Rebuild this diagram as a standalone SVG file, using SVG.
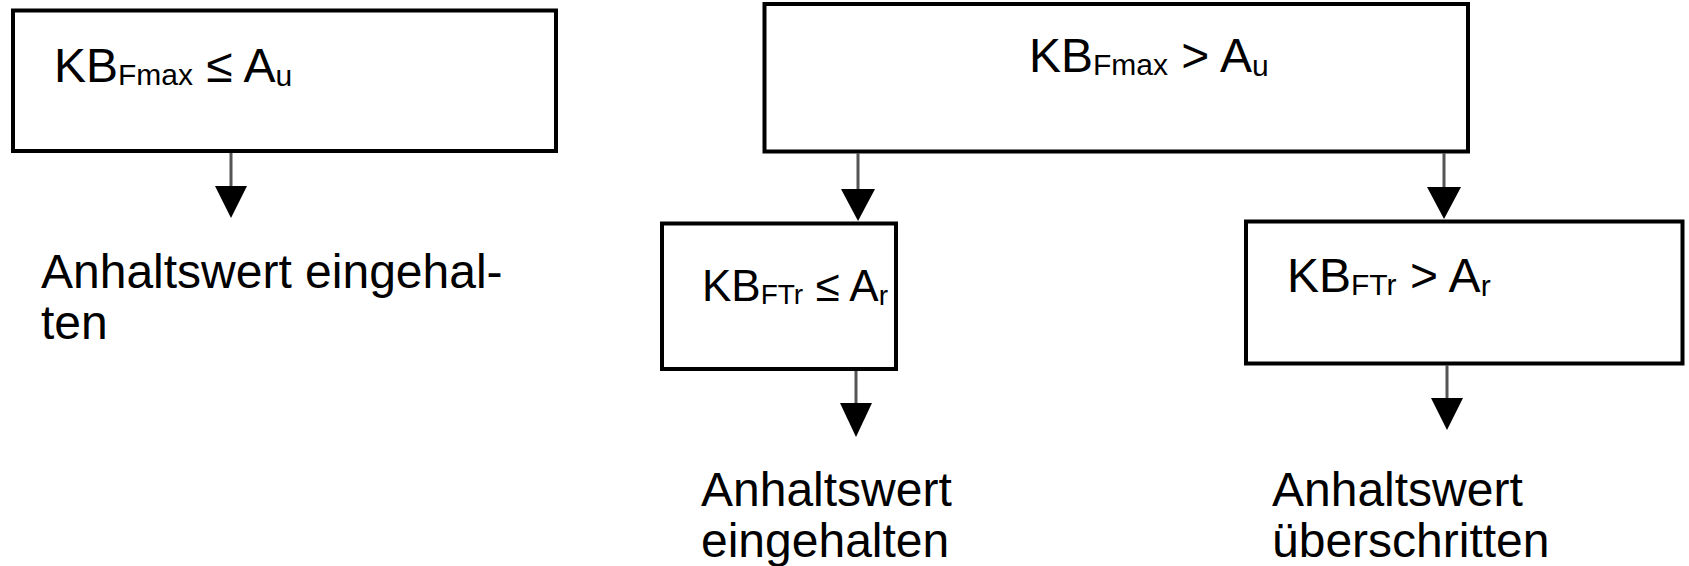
<svg xmlns="http://www.w3.org/2000/svg" width="1689" height="566" viewBox="0 0 1689 566">
<style>
.box{fill:#fff;stroke:#000;stroke-width:4}
.t{font-family:"Liberation Sans",Arial,sans-serif;font-size:48px;fill:#000}
.s{font-size:30px}
.ln{stroke:#555;stroke-width:3;fill:none}
.hd{fill:#000}
</style>
<rect width="1689" height="566" fill="#fff"/>
<g id="n1">
<rect class="box" x="13" y="10.5" width="543" height="140.5"/>
<text class="t" x="54" y="82">KB<tspan class="s" dy="3">Fmax</tspan><tspan dy="-3"> ≤ A</tspan><tspan class="s" dy="4">u</tspan></text>
</g>
<g id="r1">
<text class="t" x="41" y="288">Anhaltswert eingehal-<tspan x="41" dy="51">ten</tspan></text>
</g>
<g id="n2">
<rect class="box" x="764.5" y="4" width="703.5" height="147.5"/>
<text class="t" x="1029" y="72">KB<tspan class="s" dy="3">Fmax</tspan><tspan dy="-3"> &gt; A</tspan><tspan class="s" dy="4">u</tspan></text>
</g>
<g id="n3">
<rect class="box" x="662" y="223.5" width="234" height="145.5"/>
<text class="t" x="702" y="301" style="font-size:44px">KB<tspan style="font-size:28px" dy="3">FTr</tspan><tspan dy="-3"> ≤ A</tspan><tspan style="font-size:28px" dy="4">r</tspan></text>
</g>
<g id="n4">
<rect class="box" x="1246" y="221.5" width="436.5" height="142"/>
<text class="t" x="1287" y="292">KB<tspan class="s" dy="3">FTr</tspan><tspan dy="-3"> &gt; A</tspan><tspan class="s" dy="4">r</tspan></text>
</g>
<g id="r3">
<text class="t" x="701" y="506">Anhaltswert<tspan x="701" dy="51">eingehalten</tspan></text>
</g>
<g id="r4">
<text class="t" x="1272" y="506">Anhaltswert<tspan x="1272" dy="51">überschritten</tspan></text>
</g>
<g id="connectors">
<line class="ln" x1="231" y1="153" x2="231" y2="187"/>
<polygon class="hd" points="215,186 247,186 231,218"/>
<line class="ln" x1="858" y1="153" x2="858" y2="190"/>
<polygon class="hd" points="841,189 875,189 858,221"/>
<line class="ln" x1="1444" y1="153" x2="1444" y2="188"/>
<polygon class="hd" points="1427,187 1461,187 1444,219"/>
<line class="ln" x1="856" y1="371" x2="856" y2="404"/>
<polygon class="hd" points="840,403 872,403 856,437"/>
<line class="ln" x1="1447" y1="365" x2="1447" y2="399"/>
<polygon class="hd" points="1431,398 1463,398 1447,430"/>
</g>
</svg>
